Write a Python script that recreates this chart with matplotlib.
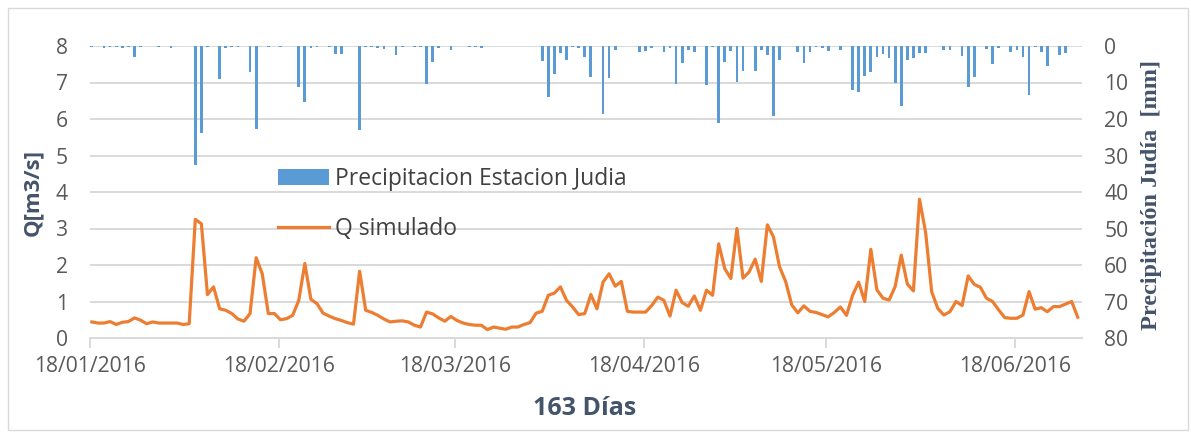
import numpy as np
import pandas as pd
import matplotlib
matplotlib.use('Agg')
import matplotlib.pyplot as plt
from matplotlib.patches import Rectangle

plt.rcParams['font.family'] = ['Open Sans', 'DejaVu Sans']

# daily data, 163 days starting 18/01/2016
start_date = '18/01/2016'

q_sim = [
    0.44, 0.41, 0.41, 0.45, 0.37, 0.43, 0.45, 0.55, 0.49, 0.39,
    0.44, 0.41, 0.41, 0.41, 0.41, 0.37, 0.39, 3.25, 3.13, 1.19,
    1.40, 0.80, 0.76, 0.67, 0.52, 0.46, 0.67, 2.20, 1.76, 0.67,
    0.67, 0.50, 0.53, 0.62, 1.03, 2.04, 1.06, 0.94, 0.68, 0.60,
    0.53, 0.48, 0.42, 0.38, 1.83, 0.76, 0.70, 0.62, 0.52, 0.44,
    0.46, 0.47, 0.44, 0.35, 0.30, 0.71, 0.66, 0.55, 0.46, 0.59,
    0.48, 0.41, 0.37, 0.35, 0.35, 0.23, 0.30, 0.27, 0.24, 0.30,
    0.30, 0.37, 0.42, 0.68, 0.73, 1.17, 1.23, 1.40, 1.03, 0.85,
    0.64, 0.67, 1.19, 0.80, 1.53, 1.76, 1.42, 1.55, 0.73, 0.71,
    0.71, 0.71, 0.89, 1.12, 1.03, 0.60, 1.31, 0.97, 0.87, 1.15,
    0.76, 1.31, 1.17, 2.58, 1.90, 1.63, 3.00, 1.64, 1.81, 2.16,
    1.55, 3.10, 2.77, 1.95, 1.55, 0.91, 0.69, 0.88, 0.73, 0.70,
    0.64, 0.58, 0.70, 0.85, 0.62, 1.17, 1.53, 1.00, 2.43, 1.32,
    1.09, 1.04, 1.41, 2.27, 1.48, 1.29, 3.80, 2.90, 1.27, 0.81,
    0.63, 0.72, 1.00, 0.89, 1.70, 1.47, 1.39, 1.09, 1.00, 0.77,
    0.56, 0.54, 0.54, 0.63, 1.27, 0.79, 0.83, 0.72, 0.86, 0.86,
    0.93, 1.00, 0.57,
]

precip = [
    0.2, 0, 0.6, 0.4, 0.4, 0.6, 0.4, 3.1, 0.4, 0,
    0, 0.4, 0, 0.6, 0, 0, 0, 32.6, 23.7, 0.2,
    0, 9.0, 0.6, 0.4, 0.4, 0, 7.0, 22.7, 0, 0.4,
    0, 0.4, 0, 0, 11.3, 15.3, 0.6, 0.2, 0, 0.4,
    2.2, 2.2, 0, 0, 23.0, 0.4, 0.4, 0.6, 0.8, 0,
    2.5, 0.4, 0, 0.4, 0.4, 10.4, 4.5, 0.6, 0, 1.1,
    0, 0, 0.4, 0.4, 0.6, 0, 0, 0, 0, 0,
    0, 0, 0, 0, 4.0, 13.9, 7.7, 2.0, 3.7, 0.4,
    0.6, 2.9, 8.4, 0, 18.6, 8.7, 1.1, 0, 0, 0,
    1.7, 1.4, 0.6, 0, 1.7, 0.6, 10.4, 4.7, 1.1, 1.7,
    0, 10.7, 0.4, 21.0, 4.5, 1.4, 9.8, 6.8, 0, 6.8,
    1.1, 2.5, 19.1, 3.7, 0, 0, 1.7, 4.7, 1.7, 0.4,
    0.6, 1.4, 0, 1.1, 0, 12.1, 12.7, 8.1, 7.2, 3.1,
    2.2, 3.4, 10.0, 16.4, 3.8, 3.4, 1.8, 1.8, 0, 0,
    1.1, 1.1, 0, 2.7, 11.1, 8.4, 0, 0.8, 5.0, 0.6,
    0, 1.7, 1.1, 3.1, 13.4, 0.4, 1.7, 5.4, 0, 2.5,
    1.8, 0, 0,
]

tick_labels = ['18/01/2016', '18/02/2016', '18/03/2016',
               '18/04/2016', '18/05/2016', '18/06/2016']

days = np.arange(len(q_sim))
t0 = pd.to_datetime(start_date, dayfirst=True)
tick_days = np.array([(pd.to_datetime(t, dayfirst=True) - t0).days for t in tick_labels])

grid_c = '#D9D9D9'
tick_c = '#595959'
title_c = '#44546A'

fig = plt.figure(figsize=(11.91, 4.32), dpi=100)
ax = fig.add_axes([90 / 1191, 1 - 338 / 432, 992 / 1191, 292 / 432])
ax2 = ax.twinx()

line, = ax.plot(days, q_sim, color='#ED7D31', lw=2.3, solid_joinstyle='round')
bars = ax2.bar(days, precip, width=0.45, color='#5B9BD5')

ax.set_xlim(-0.3, 162.7)
ax.set_ylim(0, 8)
ax2.set_ylim(80, 0)
ax.set_yticks(range(0, 9))
ax2.set_yticks(range(0, 81, 10))

ax.yaxis.grid(True, color=grid_c, lw=1.4)
ax.set_axisbelow(True)
for s in ['left', 'right', 'top']:
    ax.spines[s].set_visible(False)
for s in ax2.spines:
    ax2.spines[s].set_visible(False)
ax.spines['bottom'].set_color(grid_c)
ax.spines['bottom'].set_linewidth(1.4)

ax.set_xticks(tick_days - 0.3)
ax.set_xticklabels(tick_labels)
ax.tick_params(axis='x', length=7, width=1.4, color=grid_c, labelsize=15.2,
               labelcolor=tick_c, pad=6)
ax.tick_params(axis='y', length=0, labelsize=15.2, labelcolor=tick_c, pad=16)
ax2.tick_params(axis='y', length=0, labelsize=15.2, labelcolor=tick_c, pad=16)

ax.set_ylabel('Q[m3/s]', fontsize=16, fontweight='bold', color=title_c)
ax.yaxis.set_label_coords(-0.0575, 0.5)
ax.yaxis.label.set_va('center')

ax2.set_ylabel('Precipitación Judía  [mm]', fontsize=17.5, fontweight='bold',
               color=title_c, family='Liberation Serif', rotation=90)
ax2.yaxis.set_label_coords(1.07, 0.49)
ax2.yaxis.label.set_va('center')

ax.set_xlabel('163 Días', fontsize=18, fontweight='bold', color=title_c)
ax.xaxis.set_label_coords(0.499, -0.24)
ax.xaxis.label.set_va('center')

ax2.legend([bars, line], ['Precipitacion Estacion Judia', 'Q simulado'],
           loc='upper left', bbox_to_anchor=(0.19, 0.586), frameon=False,
           fontsize=16.5, handlelength=2.2, labelspacing=1.15,
           handletextpad=0.25, borderpad=0, borderaxespad=0, labelcolor='#404040')

fig.patches.append(Rectangle((8 / 1191, 2 / 432), 1180 / 1191, 422 / 432,
                             transform=fig.transFigure, fill=False,
                             ec=grid_c, lw=1))

fig.savefig('out.png', dpi=100)
